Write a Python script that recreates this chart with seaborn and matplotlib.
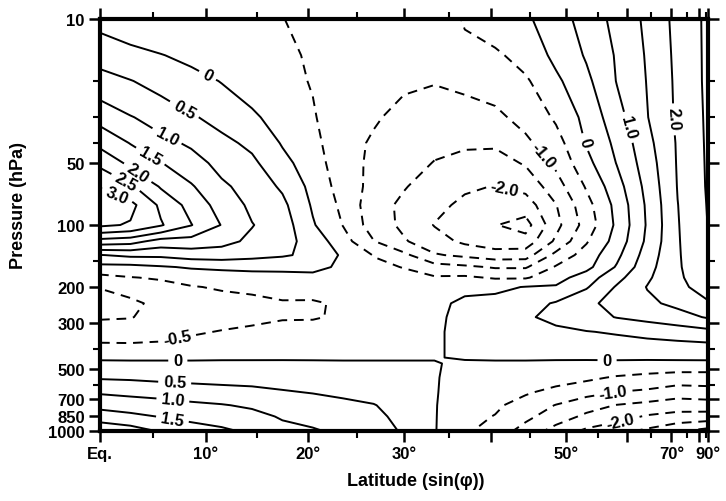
import numpy as np
import matplotlib.pyplot as plt
import matplotlib.ticker as mticker
import seaborn as sns

# grid: columns are sin(latitude), rows are pressure levels
sin_lat = [0.00, 0.05, 0.10, 0.15, 0.20, 0.25, 0.30, 0.35, 0.40, 0.45, 0.50,
           0.55, 0.60, 0.65, 0.70, 0.75, 0.80, 0.85, 0.90, 0.95, 1.00]
pressure_hpa = [10, 15, 20, 30, 40, 50, 65, 80, 100, 120, 140, 160, 180, 200,
                240, 280, 330, 390, 440, 470, 550, 650, 750, 850, 1000]

field = [
    [-0.15, -0.30, -0.40, -0.45, -0.45, -0.45, -0.49, -0.62, -0.68, -0.75, -0.80, -0.85, -0.45, -0.25, -0.08, 0.27, 0.70, 1.15, 1.60, 2.15, 2.60],  # 10
    [0.30, 0.15, 0.02, -0.12, -0.28, -0.35, -0.42, -0.55, -0.75, -0.80, -0.88, -0.92, -0.65, -0.58, -0.32, 0.12, 0.55, 1.05, 1.55, 2.12, 2.60],  # 15
    [0.70, 0.52, 0.33, 0.17, -0.02, -0.20, -0.36, -0.53, -0.80, -0.88, -0.95, -0.98, -0.90, -0.82, -0.57, -0.10, 0.38, 1.02, 1.52, 2.10, 2.60],  # 20
    [1.33, 1.03, 0.80, 0.55, 0.35, 0.08, -0.20, -0.45, -0.85, -0.96, -1.10, -1.20, -1.20, -1.10, -0.85, -0.43, 0.15, 0.80, 1.48, 2.08, 2.58],  # 30
    [1.87, 1.48, 1.15, 0.92, 0.62, 0.40, -0.04, -0.35, -0.85, -1.05, -1.20, -1.38, -1.43, -1.43, -1.10, -0.70, 0.03, 0.62, 1.35, 2.05, 2.57],  # 40
    [2.39, 1.88, 1.52, 1.22, 0.83, 0.60, 0.15, -0.27, -0.80, -1.10, -1.30, -1.52, -1.65, -1.70, -1.45, -0.90, -0.15, 0.52, 1.25, 2.04, 2.56],  # 50
    [2.98, 2.60, 1.95, 1.55, 1.10, 0.78, 0.43, -0.15, -0.72, -1.15, -1.47, -1.70, -1.92, -2.02, -1.85, -1.22, -0.45, 0.30, 1.15, 2.02, 2.55],  # 65
    [3.30, 3.15, 2.40, 1.82, 1.30, 0.90, 0.62, -0.06, -0.62, -1.30, -1.60, -1.85, -2.12, -2.30, -2.25, -1.52, -0.68, 0.15, 1.08, 1.99, 2.53],  # 80
    [3.10, 2.95, 2.55, 2.02, 1.48, 1.02, 0.75, 0.05, -0.52, -1.25, -1.60, -2.02, -2.25, -2.48, -2.70, -1.65, -0.80, 0.10, 1.05, 1.97, 2.51],  # 100
    [1.80, 1.70, 1.30, 1.30, 1.15, 0.90, 0.68, 0.30, -0.30, -0.98, -1.45, -1.80, -2.10, -2.30, -2.30, -1.40, -0.55, 0.20, 1.10, 1.96, 2.45],  # 120
    [0.48, 0.60, 0.60, 0.72, 0.75, 0.65, 0.55, 0.40, -0.08, -0.52, -0.88, -1.45, -1.60, -1.75, -1.72, -0.85, -0.28, 0.38, 1.22, 1.95, 2.42],  # 140
    [-0.15, -0.15, -0.05, 0.05, 0.10, 0.13, 0.15, 0.15, -0.10, -0.38, -0.52, -0.80, -0.90, -1.05, -1.05, -0.45, -0.15, 0.55, 1.32, 1.94, 2.38],  # 160
    [-0.65, -0.52, -0.45, -0.30, -0.25, -0.20, -0.20, -0.15, -0.25, -0.33, -0.35, -0.45, -0.42, -0.55, -0.55, -0.20, 0.25, 0.85, 1.42, 1.92, 2.30],  # 180
    [-0.98, -0.85, -0.65, -0.53, -0.45, -0.42, -0.38, -0.35, -0.32, -0.30, -0.28, -0.25, -0.12, -0.10, 0.02, 0.05, 0.45, 1.05, 1.52, 1.88, 2.20],  # 200
    [-1.20, -1.08, -0.90, -0.78, -0.68, -0.60, -0.53, -0.54, -0.45, -0.27, -0.20, -0.12, 0.10, 0.15, 0.30, 0.55, 0.90, 1.15, 1.40, 1.62, 1.95],  # 240
    [-1.05, -1.02, -0.85, -0.72, -0.65, -0.60, -0.53, -0.53, -0.45, -0.24, -0.16, -0.08, 0.12, 0.28, 0.45, 0.60, 0.82, 1.02, 1.15, 1.30, 1.55],  # 280
    [-0.75, -0.78, -0.67, -0.55, -0.48, -0.42, -0.38, -0.35, -0.30, -0.18, -0.12, -0.05, 0.10, 0.25, 0.38, 0.42, 0.48, 0.55, 0.65, 0.75, 0.85],  # 330
    [-0.40, -0.40, -0.40, -0.35, -0.30, -0.25, -0.22, -0.20, -0.18, -0.10, -0.06, -0.03, 0.06, 0.15, 0.20, 0.22, 0.25, 0.28, 0.30, 0.32, 0.35],  # 390
    [-0.10, -0.10, -0.10, -0.10, -0.08, -0.07, -0.06, -0.05, -0.05, -0.03, -0.02, -0.01, 0.02, 0.05, 0.06, 0.06, 0.07, 0.08, 0.08, 0.09, 0.10],  # 440
    [0.12, 0.10, 0.10, 0.10, 0.10, 0.09, 0.08, 0.06, 0.05, 0.03, 0.02, 0.01, -0.03, -0.05, -0.06, -0.08, -0.10, -0.10, -0.12, -0.12, -0.12],  # 470
    [0.45, 0.43, 0.38, 0.35, 0.32, 0.30, 0.28, 0.22, 0.22, 0.17, 0.10, 0.02, -0.10, -0.13, -0.22, -0.30, -0.40, -0.55, -0.65, -0.75, -0.75],  # 550
    [0.95, 0.87, 0.82, 0.75, 0.70, 0.65, 0.55, 0.48, 0.42, 0.35, 0.22, 0.03, -0.20, -0.28, -0.45, -0.65, -0.85, -1.02, -1.10, -1.25, -1.20],  # 650
    [1.35, 1.30, 1.20, 1.10, 1.03, 0.93, 0.80, 0.75, 0.60, 0.52, 0.32, 0.03, -0.30, -0.42, -0.70, -1.02, -1.30, -1.52, -1.65, -1.80, -1.75],  # 750
    [1.75, 1.60, 1.48, 1.35, 1.25, 1.15, 0.95, 0.85, 0.75, 0.60, 0.38, 0.03, -0.35, -0.52, -0.88, -1.25, -1.60, -1.80, -2.05, -2.15, -2.20],  # 850
    [2.40, 2.25, 1.95, 1.75, 1.60, 1.40, 1.15, 1.05, 0.90, 0.70, 0.45, 0.03, -0.42, -0.72, -1.20, -1.70, -2.10, -2.35, -2.60, -2.95, -3.20],  # 1000
]

contour_levels = [-3.0, -2.5, -2.0, -1.5, -1.0, -0.5, 0.0, 0.5, 1.0, 1.5, 2.0, 2.5, 3.0]

lat_major_deg = [0, 10, 20, 30, 40, 50, 60, 70, 80, 90]
lat_major_labels = ['Eq.', '10°', '20°', '30°', '', '50°', '', '70°', '', '90°']
lat_minor_deg = [5, 15, 25, 35, 45, 55, 65, 75, 85]
p_major = [10, 50, 100, 200, 300, 500, 700, 850, 1000]
p_minor = [20, 30, 40, 150, 400, 600]

# where the contour labels sit (sin lat, hPa)
label_spots = [
    (0.176, 19), (0.14, 27), (0.11, 37), (0.087, 44), (0.066, 53.5), (0.041, 63), (0.028, 72),
    (0.732, 45), (0.666, 65.5),
    (0.789, 40), (0.859, 34), (0.929, 30.5),
    (0.127, 357), (0.128, 455), (0.123, 571), (0.12, 700), (0.12, 845),
    (0.834, 455), (0.844, 647), (0.855, 855),
]

sns.set_theme(style="ticks")
plt.rcParams['font.family'] = ['Liberation Sans', 'DejaVu Sans']
plt.rcParams['font.weight'] = 'bold'
plt.rcParams['text.color'] = 'black'
plt.rcParams['axes.labelcolor'] = 'black'
plt.rcParams['xtick.color'] = 'black'
plt.rcParams['ytick.color'] = 'black'

fig = plt.figure(figsize=(7.26, 5.02), dpi=100)
ax = fig.add_axes([100 / 726, 70 / 502, 608 / 726, 412 / 502])

# axes first, so the label placement sees the final log / inverted scale
ax.set_yscale('log')
ax.set_ylim(1000, 10)
ax.set_xlim(0, 1)

X, P = np.meshgrid(sin_lat, pressure_hpa)
Z = np.array(field)

cs = ax.contour(X, P, Z, levels=contour_levels, colors='black', linewidths=1.4,
                negative_linestyles=(0, (5, 3.5)))
ax.set_ylim(1000, 10)
ax.set_xlim(0, 1)


def fmt(v):
    if abs(v) < 1e-9:
        return '0'
    return f'{v:.1f}'


texts = ax.clabel(cs, contour_levels, manual=label_spots, fmt=fmt, fontsize=12,
                  inline=True, inline_spacing=5)
for t in texts:
    t.set_fontweight('bold')

ax.set_yticks(p_major, [str(p) for p in p_major])
ax.set_yticks(p_minor, minor=True)
ax.yaxis.set_minor_formatter(mticker.NullFormatter())

ax.set_xticks(np.sin(np.radians(lat_major_deg)), lat_major_labels)
ax.set_xticks(np.sin(np.radians(lat_minor_deg)), minor=True)
ax.set_ylim(1000, 10)
ax.set_xlim(0, 1)

ax.tick_params(which='major', direction='out', length=8, width=1.8,
               top=True, right=True, labelsize=12, pad=3, colors='black')
ax.tick_params(which='minor', direction='out', length=5, width=1.5,
               top=True, right=True, colors='black')

for side in ax.spines.values():
    side.set_linewidth(3)
    side.set_color('black')

ax.set_xlabel('Latitude (sin(φ))', fontsize=13, fontweight='bold')
ax.set_ylabel('Pressure (hPa)', fontsize=13, fontweight='bold')
ax.xaxis.set_label_coords(0.52, -0.1)
ax.yaxis.set_label_coords(-0.12, 0.55)

fig.savefig('out.png', dpi=100)
